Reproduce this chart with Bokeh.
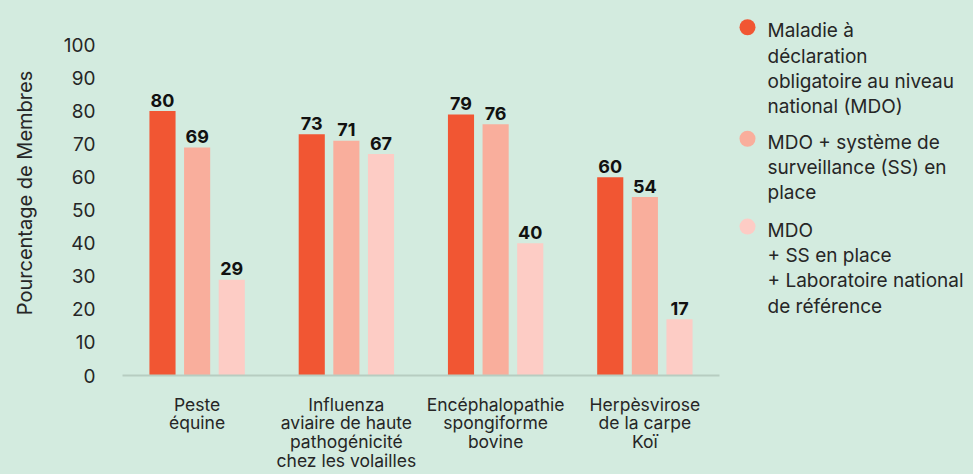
from bokeh.plotting import figure
from bokeh.models import FactorRange, Range1d, FixedTicker, ColumnDataSource
from bokeh.transform import dodge
from bokeh.layouts import row
from bokeh.core.properties import value
from bokeh.embed import file_html
from bokeh.resources import INLINE

# ---------------- data ----------------
categories = [
    "Peste\néquine",
    "Influenza\naviaire de haute\npathogénicité\nchez les volailles",
    "Encéphalopathie\nspongiforme\nbovine",
    "Herpèsvirose\nde la carpe\nKoï",
]
mdo = [80, 73, 79, 60]
mdo_ss = [69, 71, 76, 54]
mdo_ss_lnr = [29, 67, 40, 17]

series_labels = [
    "Maladie à\ndéclaration\nobligatoire au niveau\nnational (MDO)",
    "MDO + système de\nsurveillance (SS) en\nplace",
    "MDO\n+ SS en place\n+ Laboratoire national\nde référence",
]
series_colors = ["#f15633", "#f9ae9c", "#fdccc5"]
y_ticks = [0, 10, 20, 30, 40, 50, 60, 70, 80, 90, 100]
y_axis_title = "Pourcentage de Membres"

BG = "#d3ebdf"
FONT = "Inter"
TEXT = "#262626"

# frame: top at 10 px, bottom at 380 px; value 100 sits at 45 px
FRAME_TOP, FRAME_BOTTOM, Y100 = 10, 380, 45
y_end = 100 * (FRAME_BOTTOM - FRAME_TOP) / (FRAME_BOTTOM - Y100)

# ---------------- main chart ----------------
p = figure(
    width=730, height=474,
    x_range=FactorRange(factors=categories),
    y_range=Range1d(0, y_end),
    output_backend="svg", toolbar_location=None,
    min_border_left=122, min_border_right=11,
    min_border_top=FRAME_TOP, min_border_bottom=474 - FRAME_BOTTOM,
)
p.background_fill_color = None
p.border_fill_color = BG
p.outline_line_color = None
p.xgrid.grid_line_color = None
p.ygrid.grid_line_color = None

source = ColumnDataSource(dict(
    cat=categories,
    s0=mdo, s1=mdo_ss, s2=mdo_ss_lnr,
    t0=[str(v) for v in mdo],
    t1=[str(v) for v in mdo_ss],
    t2=[str(v) for v in mdo_ss_lnr],
))

offsets = [-0.232, 0.0, 0.232]
bar_w = 0.175
for i, off in enumerate(offsets):
    xs = dodge("cat", off, range=p.x_range)
    p.vbar(x=xs, top=f"s{i}", bottom=0, width=bar_w, source=source,
           fill_color=series_colors[i], line_color=None)
    p.text(x=xs, y=f"s{i}", text=f"t{i}", source=source,
           text_font=value(FONT), text_font_style="bold",
           text_font_size="18px", text_color="#111111",
           text_align="center", text_baseline="alphabetic", y_offset=-11)

# y axis
p.yaxis.ticker = FixedTicker(ticks=y_ticks)
p.yaxis.axis_line_color = None
p.yaxis.major_tick_line_color = None
p.yaxis.minor_tick_line_color = None
p.yaxis.major_label_standoff = 21
p.yaxis.major_label_text_font = FONT
p.yaxis.major_label_text_font_size = "19px"
p.yaxis.major_label_text_color = TEXT
p.yaxis.axis_label = y_axis_title
p.yaxis.axis_label_text_font = FONT
p.yaxis.axis_label_text_font_style = "normal"
p.yaxis.axis_label_text_font_size = "20px"
p.yaxis.axis_label_text_color = TEXT
p.yaxis.axis_label_standoff = 24

# x axis
p.xaxis.axis_line_color = "#b7cdc1"
p.xaxis.axis_line_width = 2
p.xaxis.major_tick_line_color = None
p.xaxis.minor_tick_line_color = None
p.xaxis.major_label_standoff = 12
p.xaxis.major_label_text_font = FONT
p.xaxis.major_label_text_font_size = "17.5px"
p.xaxis.major_label_text_color = TEXT
p.xaxis.major_label_text_line_height = 0.9

# ---------------- legend panel ----------------
# frame aligned with the main chart (10..380 px); data y == page y
lg = figure(
    width=243, height=474,
    x_range=Range1d(0, 243), y_range=Range1d(FRAME_BOTTOM, FRAME_TOP),
    output_backend="svg", toolbar_location=None,
    min_border_left=0, min_border_right=0,
    min_border_top=FRAME_TOP, min_border_bottom=474 - FRAME_BOTTOM,
)
lg.background_fill_color = None
lg.border_fill_color = BG
lg.outline_line_color = None
lg.axis.visible = False
lg.grid.grid_line_color = None

line_h = 24
gap = 17
tops = []
y = 19
for lab in series_labels:
    tops.append(y)
    y += (lab.count("\n") + 1) * line_h + gap

lsrc = ColumnDataSource(dict(
    x=[37] * len(series_labels), y=tops, text=series_labels,
    cx=[17] * len(series_labels), cy=[t + 8 for t in tops],
    color=series_colors,
))
lg.scatter(x="cx", y="cy", size=16, marker="circle", fill_color="color",
           line_color=None, source=lsrc)
lg.text(x="x", y="y", text="text", source=lsrc,
        text_font=value(FONT), text_font_size="19px", text_color=TEXT,
        text_align="left", text_baseline="top", text_line_height=1.1)

layout = row(p, lg, spacing=0, styles={"background-color": BG})
open("out.html", "w").write(file_html(layout, INLINE))
